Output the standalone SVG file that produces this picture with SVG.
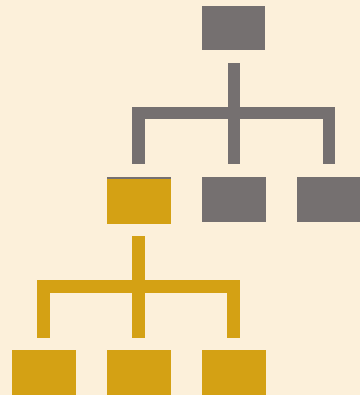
<svg xmlns="http://www.w3.org/2000/svg" width="360" height="395" viewBox="0 0 360 395">
<style>
.gray{fill:#757070}
.gold{fill:#d4a114}
</style>
<rect x="0" y="0" width="360" height="395" fill="#fcf0da"/>
<g id="connectors">
<path class="gray" d="M228,63 h12 v44 h95 v57 h-12 v-45 h-83 v45 h-12 v-45 h-83 v45 h-13 v-57 h96 z"/>
<path class="gold" d="M132,236 h13 v44 h95 v58 h-13 v-45 h-82 v45 h-13 v-45 h-82 v45 h-13 v-58 h95 z"/>
</g>
<g id="root"><rect class="gray" x="202" y="6" width="63" height="44"/></g>
<g id="child1"><rect class="gray" x="107" y="177" width="64" height="45"/><rect class="gold" x="107" y="179" width="64" height="45"/></g>
<g id="child2"><rect class="gray" x="202" y="177" width="64" height="45"/></g>
<g id="child3"><rect class="gray" x="297" y="177" width="64" height="45"/></g>
<g id="leaf1"><rect class="gold" x="12" y="350" width="64" height="45"/></g>
<g id="leaf2"><rect class="gold" x="107" y="350" width="64" height="45"/></g>
<g id="leaf3"><rect class="gold" x="202" y="350" width="64" height="45"/></g>
</svg>
